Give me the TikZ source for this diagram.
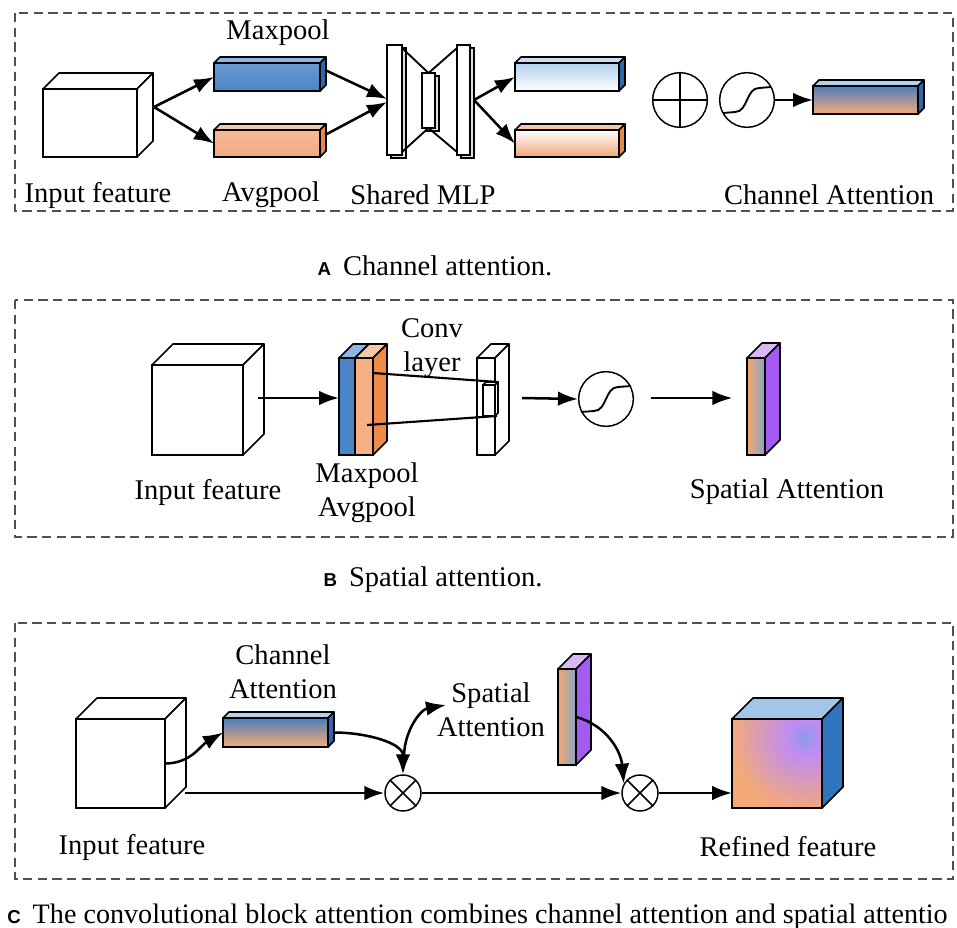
\documentclass[tikz,border=0pt]{standalone}
\usepackage{fontspec}
\setmainfont{Liberation Serif}
\newfontfamily\capsans{Liberation Sans}
\usetikzlibrary{arrows.meta,calc}
\definecolor{mpblue}{HTML}{4A86C8}
\definecolor{mpbluelt}{HTML}{6699D2}
\definecolor{mpbluetop}{HTML}{8DB7E3}
\definecolor{mpblueside}{HTML}{2F66AC}
\definecolor{aporange}{HTML}{F4A97C}
\definecolor{aporangetop}{HTML}{F8C7A6}
\definecolor{aporangeside}{HTML}{E8874F}
\definecolor{poolorange}{HTML}{F5B083}
\definecolor{poolside}{HTML}{F08A48}
\definecolor{ltblue}{HTML}{B3D1EE}
\definecolor{ltorange}{HTML}{F2A679}
\definecolor{cablue}{HTML}{4B7DBD}
\definecolor{caorange}{HTML}{F6AD77}
\definecolor{saorange}{HTML}{F5A96F}
\definecolor{sagrey}{HTML}{8AA3C4}
\definecolor{sapurple}{HTML}{A55BF2}
\definecolor{sapurpletop}{HTML}{D9B8F6}
\definecolor{rforange}{HTML}{F4AA78}
\definecolor{rfpurple}{HTML}{C08CF2}
\definecolor{rfblue}{HTML}{8C9AEB}
\definecolor{rftop}{HTML}{A2C5E8}
\definecolor{rfside}{HTML}{2F74BE}
\definecolor{framegray}{HTML}{505050}
\pgfdeclareradialshading{rfshade}{\pgfpoint{0bp}{0bp}}{color(0bp)=(rfblue); color(6bp)=(rfpurple); color(25bp)=(rforange); color(50bp)=(rforange)}
% #1 front options, #2 name, #3 x1, #4 y1, #5 x2, #6 y2, #7 depth, #8 top fill, #9 side fill
\newcommand{\cuboid}[9][]{%
  \path[draw=black, fill=#8, line width=1.2pt, line join=round] (#3,#4) -- ++(#7,-#7) -- ++(#5-#3,0) -- (#5,#4) -- cycle;
  \path[draw=black, fill=#9, line width=1.2pt, line join=round] (#5,#4) -- ++(#7,-#7) -- ++(0,#6-#4) -- (#5,#6) -- cycle;
  \node[draw=black, line width=1.2pt, inner sep=0pt, outer sep=0pt,
        minimum width={(#5-#3)*0.75pt}, minimum height={(#6-#4)*0.75pt}, #1]
        (#2) at ({(#3+#5)/2},{(#4+#6)/2}) {};
}
% MLP plate: #1 name, #2 x1, #3 y1, #4 x2, #5 y2
\newcommand{\mlpplate}[5]{%
  \path[draw=black, fill=gray!25, line width=0.9pt] (#2+4,#3+3) rectangle (#4+4,#5+3);
  \node[draw=black, fill=white, line width=1.1pt, inner sep=0pt, outer sep=0pt,
        minimum width={(#4-#2)*0.75pt}, minimum height={(#5-#3)*0.75pt}]
        (#1) at ({(#2+#4)/2},{(#3+#5)/2}) {};
}
\newcommand{\capletter}[1]{{\capsans\bfseries\fontsize{14}{14}\selectfont #1}\hspace{9pt}}
\begin{document}
\begin{tikzpicture}[x=0.75pt, y=-0.75pt,
  font=\fontsize{21.4}{25.5}\selectfont,
  every node/.append style={inner sep=0pt},
  arr/.style={-{Latex[length=15pt,width=11pt]}, line width=1.9pt},
  panel/.style={draw=framegray, line width=0.9pt, dash pattern=on 7pt off 4pt},
  bigop/.style={circle, draw=black, line width=1.1pt, minimum size=41pt, inner sep=0pt},
  smallop/.style={circle, draw=black, line width=1.1pt, minimum size=27pt, inner sep=0pt},
  thinline/.style={line width=1.4pt}]
\useasboundingbox (0,0) rectangle (957,928);
\clip (0,0) rectangle (957,928);
\fill[white] (0,0) rectangle (957,928);

% ---------- frames ----------
\draw[panel] (15,13) rectangle (953,211);
\draw[panel] (15,300) rectangle (953,537);
\draw[panel] (15,623) rectangle (953,879);

% ---------- panel A ----------
\cuboid[fill=white]{inA}{43}{89}{137}{157}{16}{white}{white}
\cuboid[top color=mpbluelt, bottom color=mpblue]{maxA}{214}{63}{320}{91}{6}{mpbluetop}{mpblueside}
\cuboid[top color=aporange!80!white, bottom color=aporange]{avgA}{214}{130}{320}{157}{6}{aporangetop}{aporangeside}

\mlpplate{mlpL}{387}{45}{402}{155}
\mlpplate{mlpM}{422}{73}{435}{128}
\mlpplate{mlpR}{457}{45}{470}{155}
\draw[thinline] ($(mlpL.north east)+(0,3)$) -- (mlpM.north) -- ($(mlpR.north west)+(0,3)$);
\draw[thinline] ($(mlpL.south east)+(0,-3)$) -- (mlpM.south) -- ($(mlpR.south west)+(0,-3)$);

\cuboid[top color=ltblue, bottom color=white]{outMax}{515}{63}{619}{91}{6}{ltblue!70!white}{mpblueside}
\cuboid[top color=white, bottom color=ltorange]{outAvg}{515}{130}{619}{157}{6}{aporangetop}{aporangeside}

\node[bigop] (plusA) at (680,100) {};
\draw[line width=1.1pt] (plusA.north) -- (plusA.south) (plusA.west) -- (plusA.east);
\node[bigop] (sigA) at (747,100) {};
\draw[thinline] ($(sigA.center)+(-24,13)$) -- ++(12,-1) .. controls +(13,0) and +(-13,0) .. ++(24,-24) -- ++(12,-1);

\cuboid[top color=cablue, bottom color=caorange]{caA}{813}{86}{918}{114}{6}{ltblue}{mpblueside}

\coordinate (inAout) at ($(inA.east)+(17,-16)$);
\draw[arr] (inAout) -- (maxA.west);
\draw[arr] (inAout) -- (avgA.west);
\draw[arr] ($(maxA.north east)+(5,7)$) -- ($(mlpL.west)+(0,-1)$);
\draw[arr] ($(avgA.north east)+(5,5)$) -- ($(mlpL.west)+(0,2)$);
\coordinate (mlpout) at ($(mlpR.east)+(4,0)$);
\draw[arr] (mlpout) -- (outMax.west);
\draw[arr] (mlpout) -- (outAvg.west);
\draw[arr] (sigA.east) -- (caA.west);

\node (tMaxA) at (278,33) {Maxpool};
\node (tInA) at (98,195) {Input feature};
\node (tAvgA) at (271,195) {Avgpool};
\node (tMlp) at (423,195) {Shared MLP};
\node (tCaA) at (829,195) {Channel Attention};

\node[anchor=base] (capA) at (435,275) {\capletter{A}Channel attention.};

% ---------- panel B ----------
\cuboid[fill=white]{inB}{152}{365}{243}{455}{21}{white}{white}
\cuboid[fill=mpblue]{poolBb}{339}{358}{355}{455}{14}{mpbluetop}{mpblueside}
\cuboid[fill=poolorange]{poolBo}{355}{358}{373}{455}{14}{aporangetop}{poolside}
\cuboid[fill=white]{convB}{477}{358}{495}{455}{14}{white}{white}
\cuboid[fill=white]{convIn}{483}{385}{495}{416}{3}{white}{white}
\draw[line width=1.6pt] ($(poolBo.north east)+(0,15)$) -- ($(convIn.north east)+(3,-3)$);
\draw[line width=1.6pt] ($(poolBo.south west)+(12,-30)$) -- ($(convIn.south east)+(2,0)$);

\node[bigop] (sigB) at (606,399) {};
\draw[thinline] ($(sigB.center)+(-25,13)$) -- ++(13,-1) .. controls +(13,0) and +(-13,0) .. ++(24,-24) -- ++(13,-1);
\cuboid[left color=saorange, right color=sagrey]{saB}{747}{358}{765}{455}{15}{sapurpletop}{sapurple}

\coordinate (inBout) at ($(inB.east)+(15,-12)$);
\draw[arr] (inBout) -- (inBout -| poolBb.west);
\coordinate (convOut) at (522,398);
\draw[arr] (convOut) -- (sigB.west);
\coordinate (sigBout) at (651,398);
\draw[arr, shorten >=11pt] (sigBout) -- (sigBout -| saB.west);

\node[align=center] (tConv) at (432,348) {Conv\\layer};
\node[align=center] (tPool) at (367,493) {Maxpool\\Avgpool};
\node (tInB) at (208,492) {Input feature};
\node (tSaB) at (787,492) {Spatial Attention};

\node[anchor=base] (capB) at (433,586) {\capletter{B}Spatial attention.};

% ---------- panel C ----------
\cuboid[fill=white]{inC}{76}{719}{165}{808}{21}{white}{white}
\cuboid[top color=cablue, bottom color=caorange]{caC}{223}{718}{328}{747}{6}{ltblue}{mpblueside}
\cuboid[left color=saorange, right color=sagrey]{saC}{558}{669}{576}{765}{15}{sapurpletop}{sapurple}
\cuboid[fill=rforange, path picture={\shade[shading=rfshade] ($(path picture bounding box.north east)+(-17,18)$) circle (75);}]{rfC}{732}{719}{822}{808}{21}{rftop}{rfside}

\node[smallop] (o1) at (403,793) {};
\draw[line width=1.1pt] (o1.north west) -- (o1.south east) (o1.north east) -- (o1.south west);
\node[smallop] (o2) at (640,793) {};
\draw[line width=1.1pt] (o2.north west) -- (o2.south east) (o2.north east) -- (o2.south west);

\coordinate (saTip) at (446,705);
\draw[arr] (inC.east) to[out=0,in=210] (caC.west);
\draw[arr] ($(inC.east |- o1)+(20,0)$) -- (o1.west);
\draw[arr] ($(caC.east)+(6,0)$) to[out=0,in=90] (o1.north);
\draw[arr] ($(o1.north)+(1,-19)$) to[out=88,in=190] (saTip);
\draw[arr] (saC.east) to[out=-15,in=95] (o2.150);
\draw[arr] (o1.east) -- (o2.west);
\draw[arr] (o2.east) -- (rfC.west |- o2);

\node[align=center] (tCaC) at (283,672) {Channel\\Attention};
\node[align=center] (tSaC) at (491,710) {Spatial\\Attention};
\node (tInC) at (132,847) {Input feature};
\node (tRf) at (788,847) {Refined feature};

\node[anchor=base west] (capC) at (7,923) {\capletter{C}\fontsize{21.1}{25}\selectfont The convolutional block attention combines channel attention and spatial attentio};
\end{tikzpicture}
\end{document}
